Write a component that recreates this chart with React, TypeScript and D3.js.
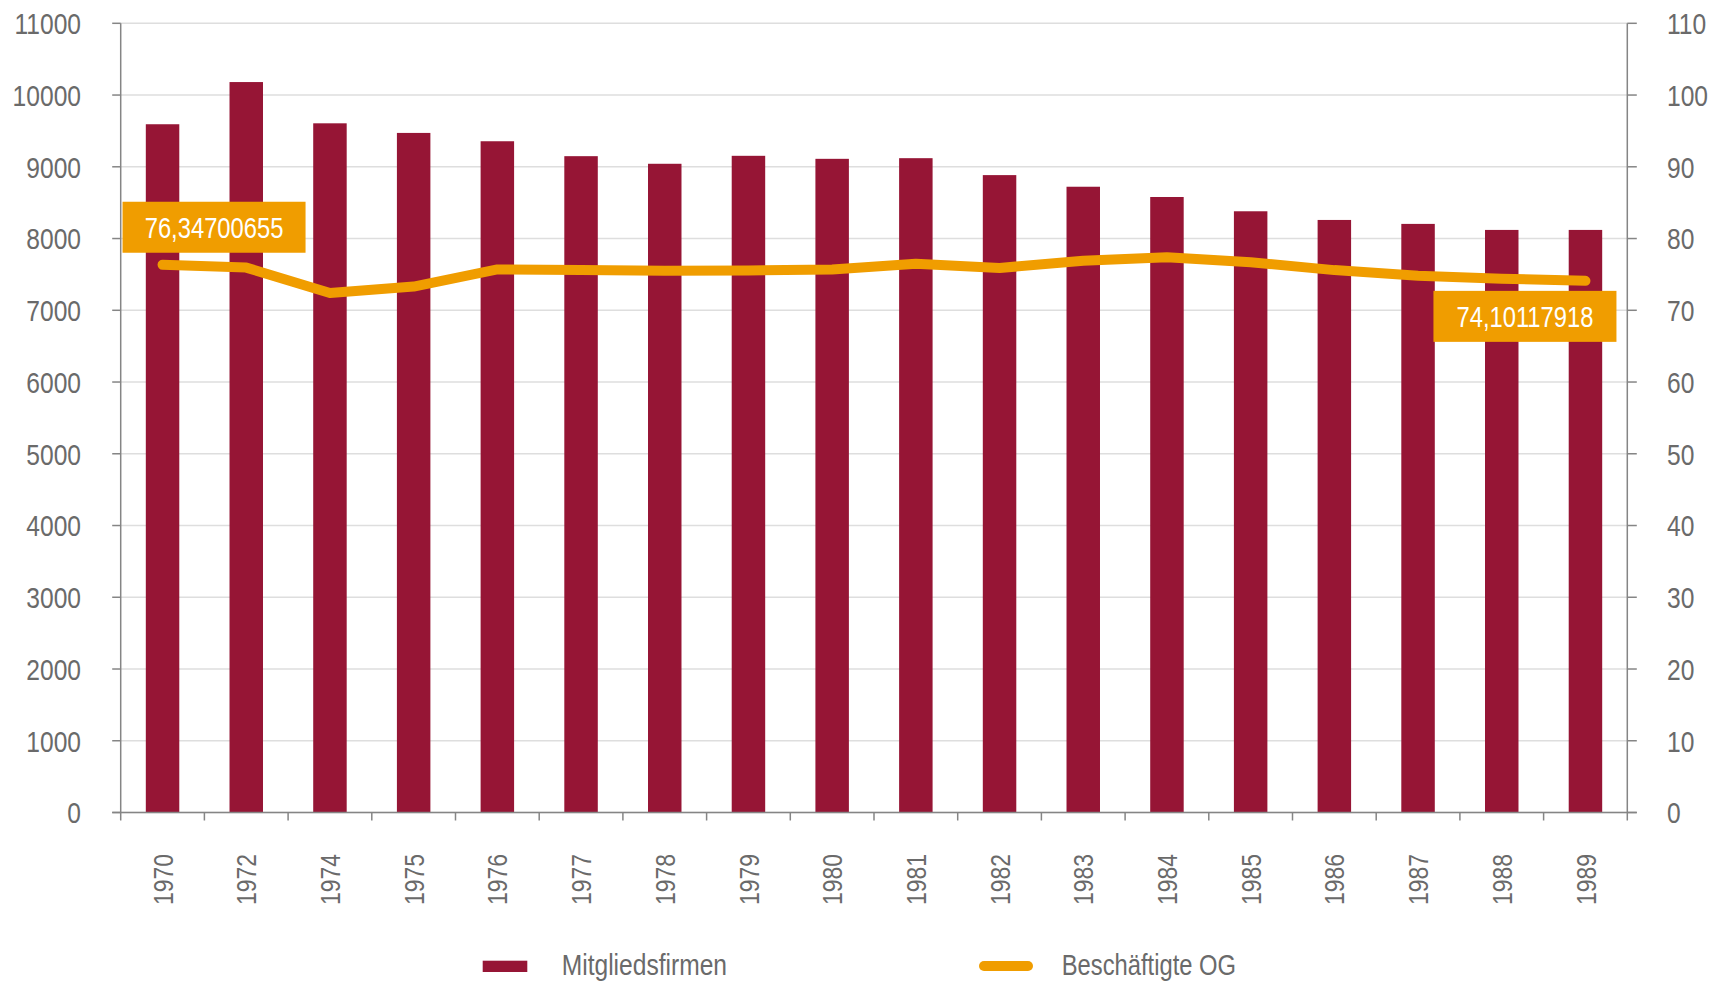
import React from 'react';
import * as d3 from 'd3';

// categories and series
const years = ['1970', '1972', '1974', '1975', '1976', '1977', '1978', '1979', '1980',
  '1981', '1982', '1983', '1984', '1985', '1986', '1987', '1988', '1989'];
const mitgliedsfirmen = [9593, 10181, 9606, 9472, 9356, 9148, 9042, 9153, 9111,
  9120, 8884, 8722, 8579, 8380, 8259, 8204, 8120, 8120];
const beschaeftigte = [76.34700655, 75.95, 72.4, 73.3, 75.7, 75.6, 75.5, 75.55, 75.7,
  76.5, 75.9, 76.9, 77.4, 76.7, 75.6, 74.8, 74.4, 74.10117918];
const legendLabels = ['Mitgliedsfirmen', 'Beschäftigte OG'];

const W = 1719, H = 981;
const left = 120.7, right = 1627.3, top = 23.3, bottom = 812.5;
const BAR = '#961535';
const ORANGE = '#F09D00';
const GRID = '#dedede';
const AXIS = '#858585';
const TXT = '#6a6a6a';
const FONT = '"Liberation Sans", Arial, sans-serif';
const NARROW = 0.82;

// condensed text: Liberation Sans squeezed horizontally
const NText = ({ x, y, rot = 0, anchor = 'start', size = 28, fill = TXT, dy = '0', children }: any) => (
  <text transform={`translate(${x},${y}) rotate(${rot}) scale(${NARROW},1)`} dy={dy}
    textAnchor={anchor} fontFamily={FONT} fontSize={size} fill={fill}>{children}</text>
);

const App = () => {
  const x = d3.scaleBand().domain(years).range([left, right]).paddingInner(0.6).paddingOuter(0.3);
  const yL = d3.scaleLinear().domain([0, 11000]).range([bottom, top]);
  const yR = d3.scaleLinear().domain([0, 110]).range([bottom, top]);
  const step = x.step();
  const cx = (y: string) => (x(y) as number) + x.bandwidth() / 2;

  const line = d3.line<number>()
    .x((d, i) => cx(years[i]))
    .y(d => yR(d));

  const fmt = (v: number) => v.toFixed(8).replace('.', ',');

  const lastI = years.length - 1;
  const first = { px: cx(years[0]), py: yR(beschaeftigte[0]), v: beschaeftigte[0] };
  const last = { px: cx(years[lastI]), py: yR(beschaeftigte[lastI]), v: beschaeftigte[lastI] };
  const boxes = [
    { x: first.px - 40, y: first.py - 63, v: first.v },
    { x: last.px - 152, y: last.py + 10, v: last.v },
  ];

  return (
    <div style={{ position: 'absolute', left: 0, top: 0 }}>
      <svg width={W} height={H} style={{ display: 'block', background: '#fff' }}>
        {/* gridlines */}
        {yL.ticks(11).map(t => (
          <line key={'g' + t} x1={left} x2={right} y1={yL(t)} y2={yL(t)} stroke={GRID} strokeWidth={1.5} />
        ))}
        {/* bars */}
        {years.map((y, i) => (
          <rect key={y} x={x(y)} y={yL(mitgliedsfirmen[i])} width={x.bandwidth()}
            height={bottom - yL(mitgliedsfirmen[i])} fill={BAR} />
        ))}
        {/* axes */}
        <line x1={left} x2={left} y1={top} y2={bottom} stroke={AXIS} strokeWidth={1.5} />
        <line x1={right} x2={right} y1={top} y2={bottom} stroke={AXIS} strokeWidth={1.5} />
        <line x1={left - 8.5} x2={right + 9.5} y1={bottom} y2={bottom} stroke={AXIS} strokeWidth={1.5} />
        {yL.ticks(11).map(t => (
          <g key={'l' + t}>
            <line x1={left - 8.5} x2={left} y1={yL(t)} y2={yL(t)} stroke={AXIS} strokeWidth={1.5} />
            <NText x={81} y={yL(t)} dy="0.36em" anchor="end" size={30}>{t}</NText>
          </g>
        ))}
        {yR.ticks(11).map(t => (
          <g key={'r' + t}>
            <line x1={right} x2={right + 9.5} y1={yR(t)} y2={yR(t)} stroke={AXIS} strokeWidth={1.5} />
            <NText x={1667} y={yR(t)} dy="0.36em" size={30}>{t}</NText>
          </g>
        ))}
        {d3.range(years.length + 1).map(i => (
          <line key={'xt' + i} x1={left + i * step} x2={left + i * step} y1={bottom} y2={bottom + 8}
            stroke={AXIS} strokeWidth={1.5} />
        ))}
        {years.map(y => (
          <NText key={'xl' + y} x={cx(y)} y={854} rot={-90} dy="0.36em" anchor="end">{y}</NText>
        ))}
        {/* line series */}
        <path d={line(beschaeftigte) || ''} fill="none" stroke={ORANGE} strokeWidth={10}
          strokeLinecap="round" strokeLinejoin="round" />
        {/* value labels */}
        {boxes.map((b, i) => (
          <g key={'b' + i}>
            <rect x={b.x} y={b.y} width={183} height={51} fill={ORANGE} />
            <NText x={b.x + 91.5} y={b.y + 36} anchor="middle" size={29} fill="#fff">{fmt(b.v)}</NText>
          </g>
        ))}
        {/* legend */}
        <rect x={482.7} y={960.7} width={44.6} height={11.3} fill={BAR} />
        <NText x={561.7} y={974.5} size={30}>{legendLabels[0]}</NText>
        <line x1={984} x2={1028} y1={966} y2={966} stroke={ORANGE} strokeWidth={10} strokeLinecap="round" />
        <NText x={1061.7} y={974.5} size={29}>{legendLabels[1]}</NText>
      </svg>
    </div>
  );
};

export default App;
